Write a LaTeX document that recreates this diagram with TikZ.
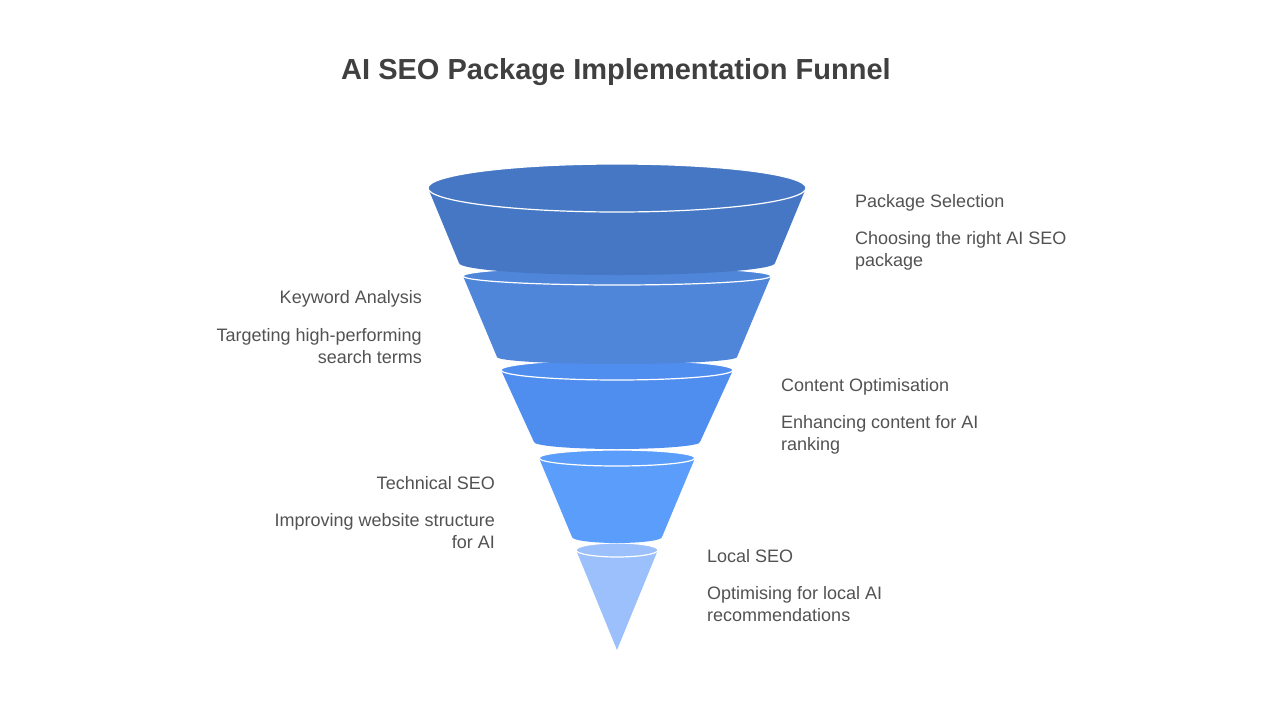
\documentclass[tikz,border=0pt]{standalone}
\usepackage{fontspec}
\setmainfont{Liberation Sans}
\begin{document}
\begin{tikzpicture}[x=1pt,y=1pt,yscale=-1,xscale=1,
  lbl/.style={text=black!68,font=\fontsize{18}{22}\selectfont,inner sep=0pt},
  ring/.style={draw=white,line width=1.2pt}]
\useasboundingbox (0,0) rectangle (1280,720);

% segment 5 (bottom)
\draw [fill={rgb,255:red,156;green,192;blue,251},draw=none] (576.5,551) -- (617,650) -- (657.5,551) -- cycle;
\draw [ring,fill={rgb,255:red,156;green,192;blue,251}] (617,550) ellipse [x radius=41,y radius=7];
% segment 4
\draw [fill={rgb,255:red,91;green,157;blue,251},draw=none] (539,458) -- (572,537) arc [start angle=180,end angle=0,x radius=45,y radius=6] -- (695,458) -- cycle;
\draw [ring,fill={rgb,255:red,91;green,157;blue,251}] (617,458) ellipse [x radius=78,y radius=8];
% segment 3
\draw [fill={rgb,255:red,79;green,142;blue,239},draw=none] (501,370) -- (534,442) arc [start angle=180,end angle=0,x radius=83,y radius=7] -- (733,370) -- cycle;
\draw [ring,fill={rgb,255:red,79;green,142;blue,239}] (617,370) ellipse [x radius=116,y radius=10];
% segment 2
\draw [fill={rgb,255:red,79;green,134;blue,218},draw=none] (463,276) -- (497,357) arc [start angle=180,end angle=0,x radius=120,y radius=7] -- (771,276) -- cycle;
\draw [ring,fill={rgb,255:red,79;green,134;blue,218}] (617,276) ellipse [x radius=154,y radius=9];
% segment 1 (top)
\draw [fill={rgb,255:red,70;green,119;blue,196},draw=none] (428,188) -- (459,263) arc [start angle=180,end angle=0,x radius=158,y radius=12] -- (806,188) -- cycle;
\draw [ring,fill={rgb,255:red,70;green,119;blue,196}] (617,188) ellipse [x radius=189,y radius=24];

\node (title) at (616,72) [text=black!75,font=\fontsize{29}{34}\selectfont\bfseries] {AI SEO Package Implementation Funnel};

\node (selHead) at (855,203) [lbl,anchor=west] {Package Selection};
\node (selText) at (855,251) [lbl,anchor=west,align=left] {Choosing the right AI SEO\\package};
\node (kwHead) at (422,299) [lbl,anchor=east] {Keyword Analysis};
\node (kwText) at (422,346) [lbl,anchor=east,align=right] {Targeting high-performing\\search terms};
\node (coHead) at (781,387) [lbl,anchor=west] {Content Optimisation};
\node (coText) at (781,435) [lbl,anchor=west,align=left] {Enhancing content for AI\\ranking};
\node (teHead) at (495,483) [lbl,anchor=east] {Technical SEO};
\node (teText) at (495,531) [lbl,anchor=east,align=right] {Improving website structure\\for AI};
\node (loHead) at (707,556) [lbl,anchor=west] {Local SEO};
\node (loText) at (707,604) [lbl,anchor=west,align=left] {Optimising for local AI\\recommendations};

\end{tikzpicture}
\end{document}
